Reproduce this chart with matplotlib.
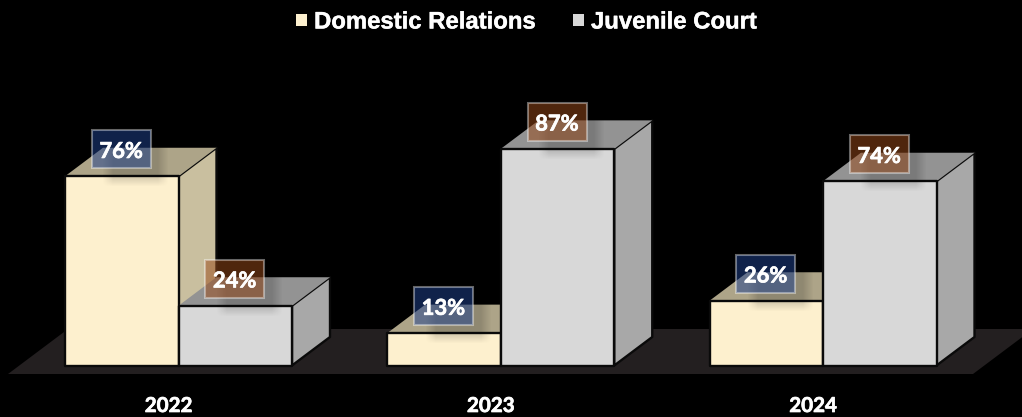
import numpy as np
import matplotlib
matplotlib.use("Agg")
import matplotlib.pyplot as plt
import matplotlib.patheffects as pe
from matplotlib.patches import Polygon, Rectangle, Patch

# Data
years = ["2022", "2023", "2024"]
domestic_relations = [76, 13, 26]
juvenile_court = [24, 87, 74]
series_names = ["Domestic Relations", "Juvenile Court"]

W, H = 1022, 417
PX_X = 322.25      # pixels per category step
PX_Y = 2.49        # pixels per percentage point
ORIGIN_X = 178.5   # pixel column of the first category
BASE_Y = 365.5     # pixel row of the zero line

BAR_W = 113.5 / PX_X
DEPTH_X = 38 / PX_X
DEPTH_Y = 28.5 / PX_Y

STYLES = [
    dict(front="#FDF0CE", side="#C9BF9F", top="#ADA488", box=(0.12, 0.26, 0.56)),
    dict(front="#D8D8D8", side="#A8A8A8", top="#939393", box=(0.60, 0.29, 0.10)),
]

fig = plt.figure(figsize=(W / 100, H / 100), dpi=100, facecolor="black")
ax = fig.add_axes([0, 0, 1, 1], facecolor="black")
xlim = (-ORIGIN_X / PX_X, (W - ORIGIN_X) / PX_X)
ylim = (-(H - BASE_Y) / PX_Y, BASE_Y / PX_Y)
ax.axis("off")

# Floor plate under the columns
fl, fr = (8 - ORIGIN_X) / PX_X, (973 - ORIGIN_X) / PX_X
fb, ft = -(374 - BASE_Y) / PX_Y, (BASE_Y - 329) / PX_Y
shift = 60 / PX_X
ax.add_patch(Polygon([(fl, fb), (fr, fb), (fr + shift, ft), (fl + shift, ft)],
                     closed=True, fc="#231F20", ec="none", zorder=1))


def column(x0, value, style, z):
    """Oblique box: side and top faces, then the front face over them."""
    x1 = x0 + BAR_W
    edge = dict(ec="#0A0A0A", lw=1.7, joinstyle="round")
    ax.add_patch(Polygon([(x1, 0), (x1 + DEPTH_X, DEPTH_Y),
                          (x1 + DEPTH_X, value + DEPTH_Y), (x1, value)],
                         closed=True, fc=style["side"], zorder=z, **edge))
    ax.add_patch(Polygon([(x0, value), (x1, value),
                          (x1 + DEPTH_X, value + DEPTH_Y), (x0 + DEPTH_X, value + DEPTH_Y)],
                         closed=True, fc=style["top"], ec="none", zorder=z))
    ax.add_patch(Rectangle((x0, 0), BAR_W, value, fc=style["front"], zorder=z + 0.1, **edge))


def soft_shadow(cx, cy):
    """Feathered dark patch behind a label, falling on the faces below it."""
    left, right = cx - 19 / PX_X, cx + 48 / PX_X
    bottom, top = cy - 38 / PX_Y, cy + 14 / PX_Y
    xs = np.linspace(0, 1, 67)
    ys = np.linspace(0, 1, 52)
    ramp = lambda t, w: np.clip(np.minimum(t, 1 - t) / w, 0, 1)
    a = np.outer(ramp(ys, 0.2), ramp(xs, 0.16)) * 0.17
    rgba = np.zeros(a.shape + (4,))
    rgba[..., 3] = a
    ax.imshow(rgba, extent=(left, right, bottom, top), origin="lower", aspect="auto",
              interpolation="bilinear", zorder=40)


z = 2
for i in range(len(years)):
    for j, value in enumerate((domestic_relations[i], juvenile_court[i])):
        column(i - BAR_W + j * BAR_W, value, STYLES[j], z)
        z += 1

# Percentage labels sitting above each column
stroke = [pe.withStroke(linewidth=0.5, foreground="white")]
for i in range(len(years)):
    for j, value in enumerate((domestic_relations[i], juvenile_court[i])):
        cx = i - BAR_W / 2 + j * BAR_W - 0.5 / PX_X
        cy = value + 27 / PX_Y
        bw, bh = 59 / PX_X, 38 / PX_Y
        soft_shadow(cx, cy)
        ax.add_patch(Rectangle((cx - bw / 2, cy - bh / 2), bw, bh,
                               fc=STYLES[j]["box"] + (0.52,),
                               ec=(1, 1, 1, 0.4), lw=1.5, zorder=50))
        ax.text(cx, cy - 0.2 / PX_Y, f"{value}%", color="white", ha="center",
                va="center_baseline", fontsize=15.8, fontweight="bold", family="Lato",
                zorder=51, path_effects=stroke)

# Category names under the floor
for i, year in enumerate(years):
    ax.text(i - 10 / PX_X, -(404 - BASE_Y) / PX_Y, year, color="white", ha="center",
            va="center_baseline", fontsize=14.8, fontweight="bold", family="Lato",
            path_effects=stroke)

handles = [Patch(fc=STYLES[k]["front"], ec="none", label=series_names[k]) for k in range(2)]
leg = ax.legend(handles=handles, ncol=2, frameon=False, loc="center",
                bbox_to_anchor=(526 / W, 1 - 22 / H), handlelength=0.47, handleheight=0.42,
                handletextpad=0.3, columnspacing=1.55, borderpad=0, labelcolor="white",
                prop=dict(family="Liberation Sans", weight="bold", size=17.2))
for t in leg.get_texts():
    t.set_path_effects([pe.withStroke(linewidth=0.3, foreground="white")])

ax.set_xlim(*xlim)
ax.set_ylim(*ylim)
fig.savefig("out.png", dpi=100, facecolor="black")
